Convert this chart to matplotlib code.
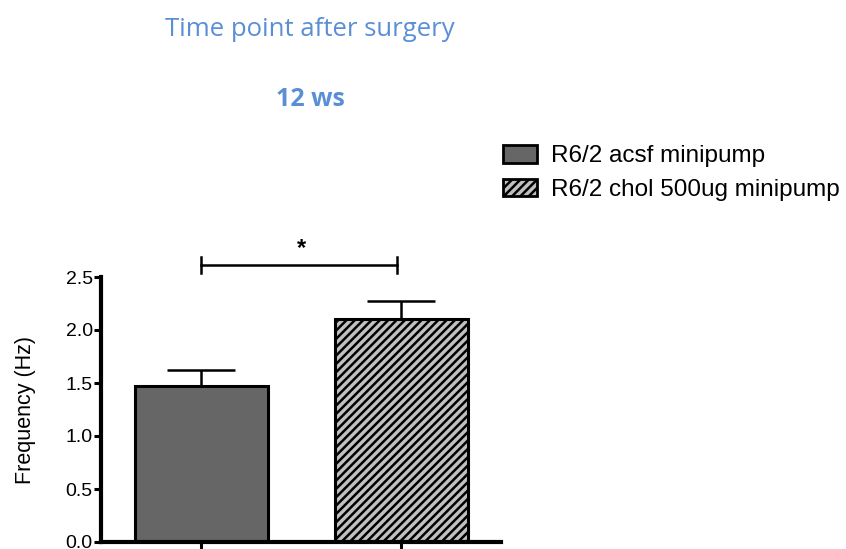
import matplotlib
matplotlib.use("Agg")
import matplotlib.pyplot as plt
from matplotlib.patches import Patch

groups = ["R6/2 acsf minipump", "R6/2 chol 500ug minipump"]
means = [1.475, 2.10]
errors = [0.145, 0.17]
yticks = [0.0, 0.5, 1.0, 1.5, 2.0, 2.5]
ytick_labels = ["0.0", "0.5", "1.0", "1.5", "2.0", "2.5"]
sig_label = "*"
sig_height = 2.61
title1 = "Time point after surgery"
title2 = "12 ws"
ylabel = "Frequency (Hz)"

plt.rcParams['hatch.linewidth'] = 1.8
plt.rcParams['font.family'] = ['Liberation Sans', 'DejaVu Sans']

fig = plt.figure(figsize=(8.46, 5.49), dpi=100)
ax = fig.add_axes([101/846, 1-542/549, 400/846, (542-277)/549])

face = ["#666666", "#c0c0c0"]
hatches = [None, "////"]
xs = list(range(len(groups)))
for i in xs:
    ax.bar(xs[i], means[i], width=0.665, color=face[i], edgecolor="black",
           linewidth=2.2, hatch=hatches[i], zorder=2)
    ax.errorbar(xs[i], means[i], yerr=[[0], [errors[i]]], fmt="none",
                ecolor="black", elinewidth=1.8, capsize=24.5, capthick=1.8, zorder=1)

ax.set_xlim(-0.5, 1.5)
ax.set_ylim(0, 2.5)
ax.set_yticks(yticks)
ax.set_yticklabels(ytick_labels, fontsize=14)
ax.set_xticks(xs)
ax.set_xticklabels([])
for s in ["top", "right"]:
    ax.spines[s].set_visible(False)
for s in ["left", "bottom"]:
    ax.spines[s].set_linewidth(3)
ax.tick_params(axis="y", direction="out", length=5, width=2.2, pad=1)
ax.tick_params(axis="x", direction="out", length=8, width=2.2)
ax.set_ylabel(ylabel, fontsize=15.5, labelpad=21)

# significance bracket
ax.plot([xs[0], xs[1] - 0.02], [sig_height, sig_height], color="black", lw=1.8, clip_on=False)
for xx in [xs[0], xs[1] - 0.02]:
    ax.plot([xx, xx], [sig_height - 0.075, sig_height + 0.075], color="black", lw=1.8, clip_on=False)
ax.text((xs[0] + xs[1]) / 2, sig_height + 0.05, sig_label, ha="center", va="bottom",
        fontsize=17, fontweight="bold")

# titles
blue = "#5a8fd6"
fig.text(310/846, 1-29/549, title1, ha="center", va="center", color=blue,
         fontsize=18.5, family=["Open Sans", "DejaVu Sans"])
fig.text(310/846, 1-99/549, title2, ha="center", va="center", color=blue,
         fontsize=18, fontweight="bold", family=["Open Sans", "DejaVu Sans"])

handles = [Patch(facecolor=face[0], edgecolor="black", linewidth=2),
           Patch(facecolor=face[1], edgecolor="black", linewidth=2, hatch="////")]
fig.legend(handles, groups, loc="upper left", bbox_to_anchor=(503/846, 1-145/549),
           frameon=False, fontsize=17.5, handlelength=1.38, handleheight=0.75,
           handletextpad=0.6, labelspacing=0.46, borderaxespad=0, borderpad=0)

fig.savefig("out.png", dpi=100)
